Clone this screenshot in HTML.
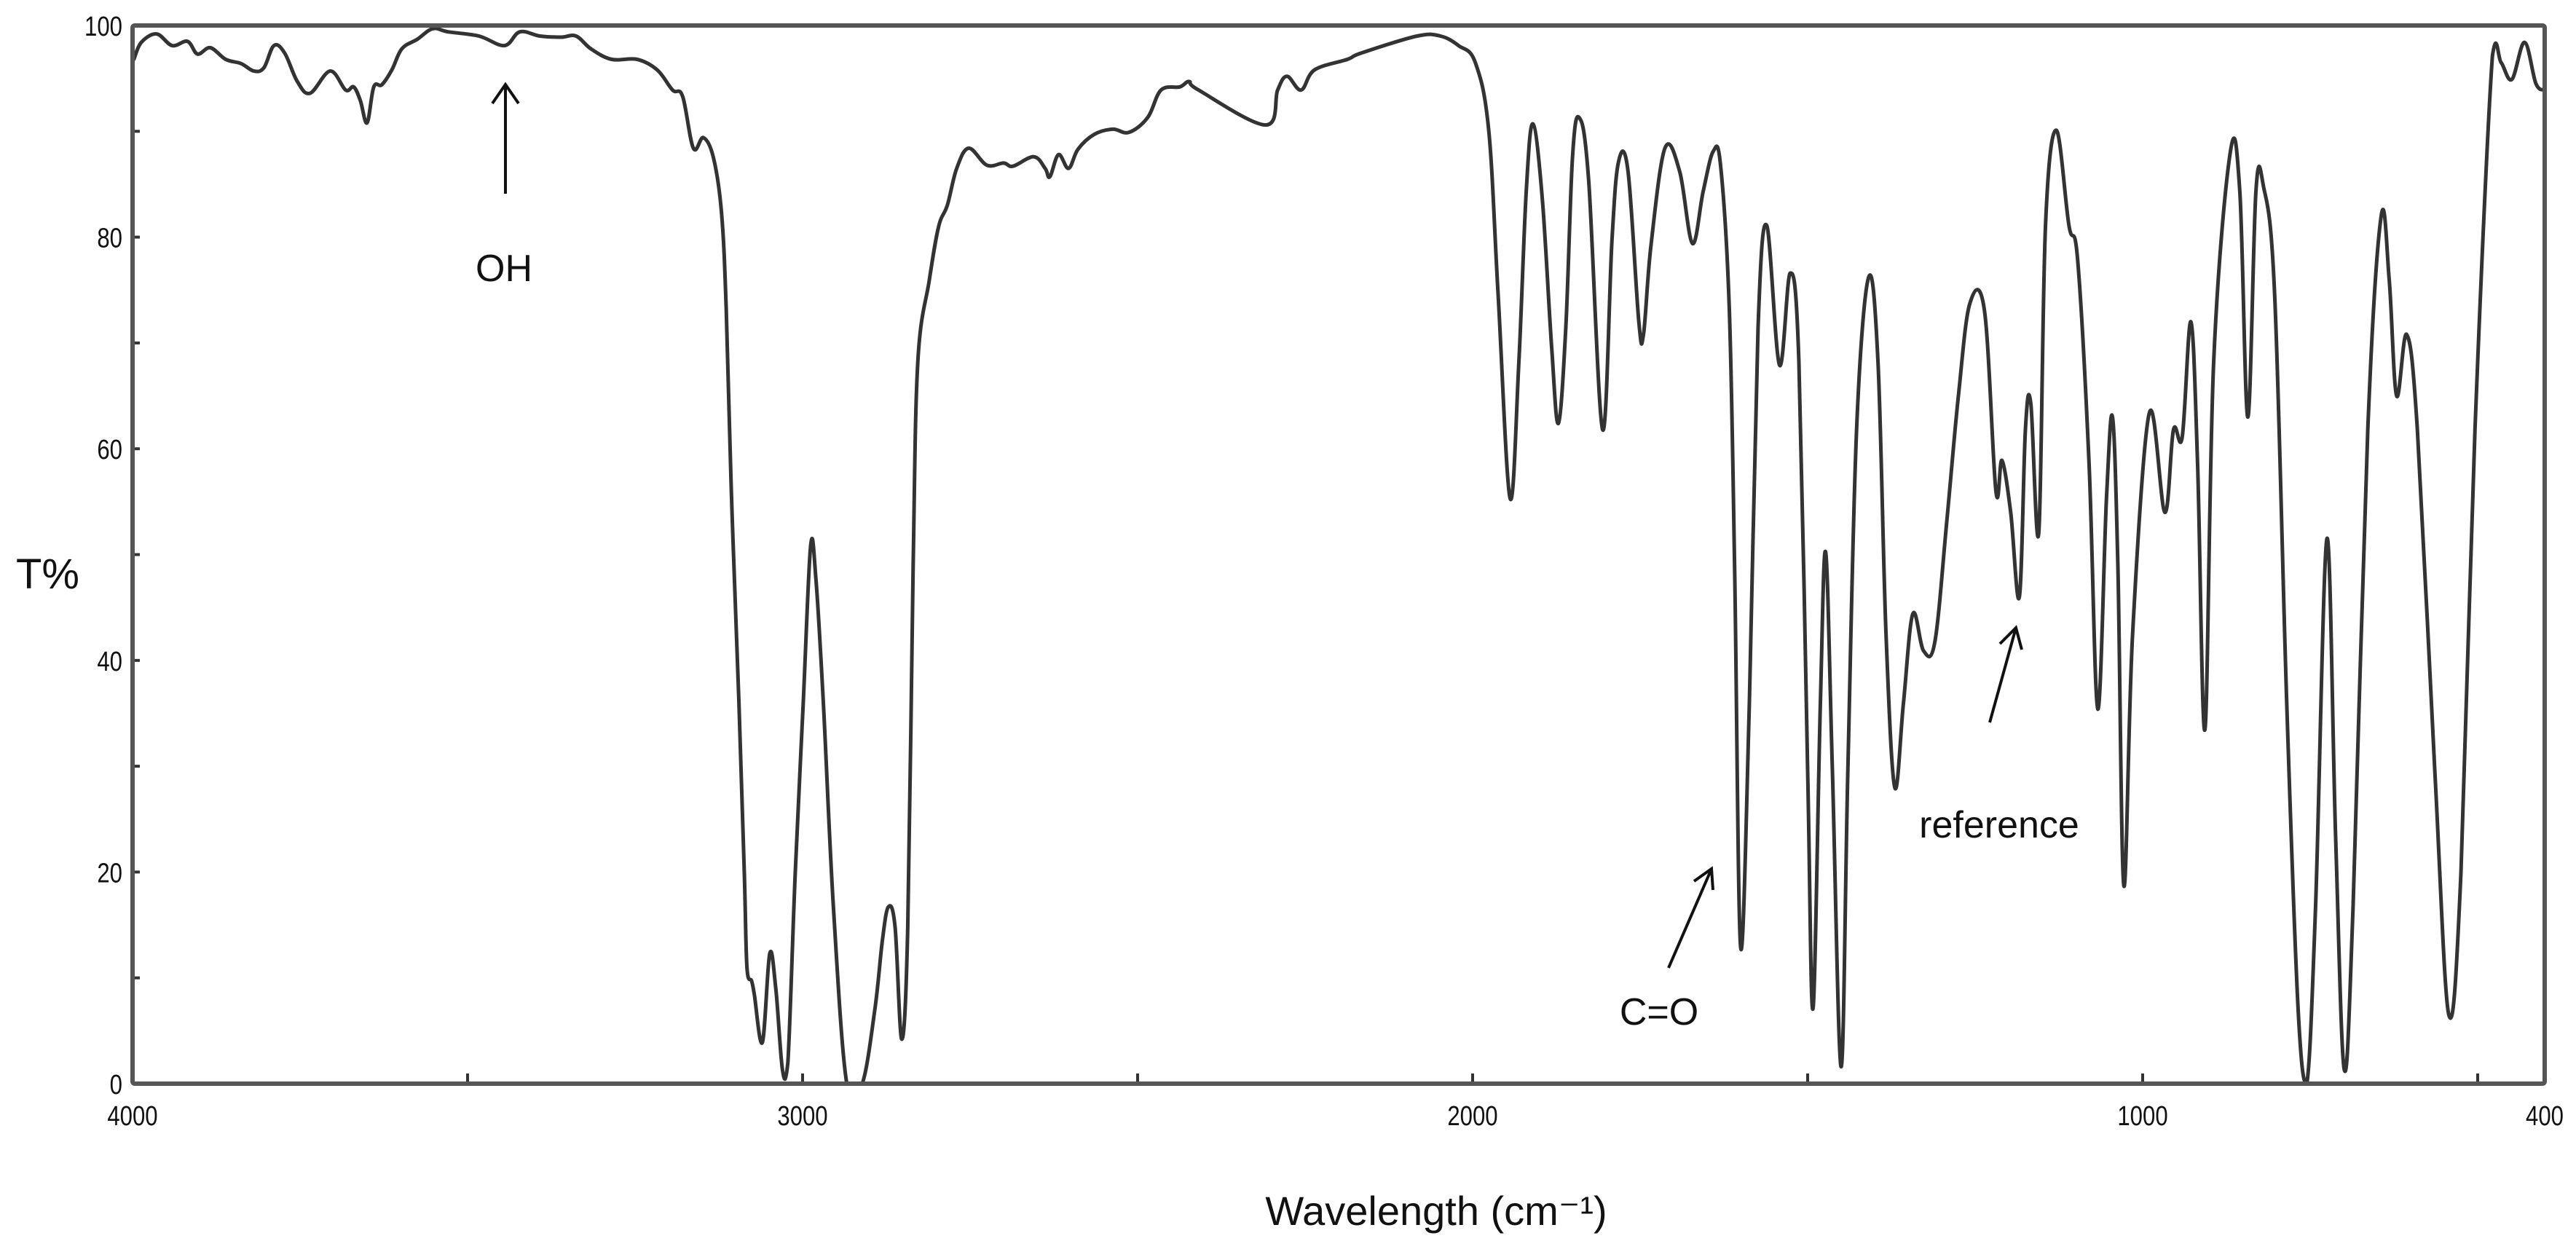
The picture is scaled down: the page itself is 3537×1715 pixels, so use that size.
<!DOCTYPE html>
<html><head><meta charset="utf-8"><style>
html,body{margin:0;padding:0;background:#fff;}
svg{display:block;}
text{font-family:"Liberation Sans",sans-serif;}
</style></head><body>
<svg id="chart" width="3537" height="1715" viewBox="0 0 3537 1715" xmlns="http://www.w3.org/2000/svg">
<rect x="0" y="0" width="3537" height="1715" fill="#fff"/>
<g id="ticks"></g>
<g id="labels"></g>
<path id="spectrum" fill="none" stroke="#333" stroke-width="5" stroke-linejoin="round" stroke-linecap="round"/>
<rect x="182" y="35" width="3312" height="1453" fill="none" stroke="#555" stroke-width="6" rx="3"/>
<text x="22" y="808" font-size="58" fill="#111">T%</text>
<text x="1972" y="1682" font-size="56" fill="#111" text-anchor="middle">Wavelength (cm⁻¹)</text>
<g>
<line x1="694" y1="266" x2="694" y2="116" stroke="#111" stroke-width="4"/>
<polyline points="676,142 694,116 712,142" fill="none" stroke="#111" stroke-width="4"/>
<text x="692" y="386" font-size="52" fill="#111" text-anchor="middle">OH</text>
</g>
<g>
<line x1="2291" y1="1329" x2="2350" y2="1193" stroke="#111" stroke-width="4"/>
<polyline points="2326,1210 2350,1193 2352,1222" fill="none" stroke="#111" stroke-width="4"/>
<text x="2278" y="1407" font-size="52" fill="#111" text-anchor="middle">C=O</text>
</g>
<g>
<line x1="2732" y1="992" x2="2768" y2="862" stroke="#111" stroke-width="4"/>
<polyline points="2746,884 2768,862 2776,892" fill="none" stroke="#111" stroke-width="4"/>
<text x="2745" y="1150" font-size="52" fill="#111" text-anchor="middle">reference</text>
</g>
</svg>
<script>
const wavenumbers=[3998,3987,3964,3941,3918,3903,3884,3861,3838,3819,3804,3789,3773,3754,3735,3705,3682,3670,3660,3650,3640,3628,3613,3598,3575,3552,3529,3483,3445,3422,3392,3361,3338,3316,3285,3247,3217,3194,3179,3163,3148,3133,3121,3114,3106,3095,3087,3083,3076,3072,3060,3049,3040,3030,3022,3011,2999,2988,2980,2969,2954,2934,2911,2892,2881,2872,2862,2852,2843,2835,2828,2811,2797,2784,2770,2752,2725,2700,2686,2655,2638,2631,2618,2603,2589,2565,2537,2513,2485,2465,2437,2423,2409,2309,2291,2277,2256,2236,2187,2166,2083,2048,2021,1996,1976,1962,1944,1931,1920,1910,1896,1882,1872,1861,1851,1841,1827,1806,1792,1782,1768,1752,1745,1734,1713,1691,1672,1656,1641,1630,1617,1609,1600,1587,1574,1561,1542,1526,1513,1500,1492,1481,1473,1463,1450,1440,1427,1409,1395,1383,1370,1357,1343,1327,1310,1292,1275,1258,1236,1219,1210,1197,1184,1175,1167,1155,1145,1129,1110,1097,1080,1067,1054,1045,1037,1028,1015,990,967,954,941,928,918,907,894,869,855,843,831,820,803,785,768,755,742,725,712,699,686,664,644,632,621,606,590,564,543,525,504,478,465,449,430,413,400];
const transmittance=[96.8,98.4,99.2,98.1,98.5,97.3,97.9,96.8,96.4,95.7,96.0,98.1,97.4,94.7,93.6,95.7,93.9,94.2,92.9,90.8,94.2,94.4,95.8,97.8,98.7,99.7,99.4,99.0,98.1,99.4,99.0,98.9,99.0,97.8,96.8,96.8,95.8,93.9,93.3,88.4,89.4,87.5,82.3,73.3,55.3,36.0,19.9,11.0,9.7,8.4,3.9,12.3,9.0,1.3,2.0,19.9,36.0,50.8,47.6,36.0,16.7,0,0,7.1,13.5,16.7,14.8,4.2,14.8,48.9,68.2,75.9,81.0,83.0,86.5,88.4,86.8,87.0,86.7,87.6,86.5,85.7,87.8,86.5,88.3,89.7,90.2,89.9,91.3,93.9,94.2,94.7,93.9,90.6,93.9,95.2,93.9,95.8,96.8,97.4,99.0,99.0,98.1,96.5,90.1,74.6,55.3,68.2,84.3,90.7,83.6,69.5,62.4,71.4,87.5,91.3,85.5,61.8,79.8,87.2,86.2,72.0,70.8,79.1,88.4,86.2,79.4,84.3,88.1,86.8,73.3,48.9,12.9,36.0,71.4,81.1,67.9,76.6,68.2,29.6,7.1,36.0,50.2,29.6,1.6,29.6,61.8,76.2,68.2,42.5,28.0,36.0,44.4,40.9,41.8,53.4,65.0,73.7,73.0,56.0,58.9,54.0,46.0,61.8,64.3,52.1,81.1,90.1,81.1,77.8,58.6,35.4,55.3,63.0,48.9,18.7,42.5,63.4,54.0,61.8,61.1,72.0,58.6,33.5,68.2,88.1,84.3,63.0,84.3,84.9,74.6,36.0,7.1,0,16.7,51.5,23.2,1.3,16.7,61.8,82.0,75.9,65.0,70.8,61.8,29.6,6.5,19.9,61.8,97.1,96.5,94.9,98.4,94.5,93.9];
const xTickLabels=["4000","3000","2000","1000","400"];
const xTickValues=[4000,3000,2000,1000,400];
const yTickLabels=["0","20","40","60","80","100"];
const yTickValues=[0,20,40,60,80,100];

const L=182,R=3494,T=35,B=1488;
function xs(w){return L+(4000-w)/(4000-400)*(R-L);}
function ys(v){return B-v/100*(B-T);}
const NS="http://www.w3.org/2000/svg";
const pts=wavenumbers.map((w,i)=>[xs(w),ys(transmittance[i])]);
let d="M"+pts[0][0].toFixed(1)+","+pts[0][1].toFixed(1);
const k=0.35;
for(let i=0;i<pts.length-1;i++){
  const p0=pts[Math.max(0,i-1)],p1=pts[i],p2=pts[i+1],p3=pts[Math.min(pts.length-1,i+2)];
  let c1x=p1[0]+(p2[0]-p0[0])*k/2,c1y=p1[1]+(p2[1]-p0[1])*k/2;
  let c2x=p2[0]-(p3[0]-p1[0])*k/2,c2y=p2[1]-(p3[1]-p1[1])*k/2;
  c1y=Math.min(B,Math.max(T,c1y));c2y=Math.min(B,Math.max(T,c2y));
  d+="C"+c1x.toFixed(1)+","+c1y.toFixed(1)+" "+c2x.toFixed(1)+","+c2y.toFixed(1)+" "+p2[0].toFixed(1)+","+p2[1].toFixed(1);
}
document.getElementById('spectrum').setAttribute('d',d);

const tg=document.getElementById('ticks');
for(let w=4000;w>=400;w-=500){
  const l=document.createElementNS(NS,'line');
  
  
  l.setAttribute('x1',xs(w));l.setAttribute('x2',xs(w));l.setAttribute('y1',B);l.setAttribute('y2',B-14);
  l.setAttribute('stroke','#333');l.setAttribute('stroke-width','4');tg.appendChild(l);
}
for(let v=0;v<=100;v+=10){
  const l=document.createElementNS(NS,'line');
  
  
  l.setAttribute('x1',L);l.setAttribute('x2',L+10);l.setAttribute('y1',ys(v));l.setAttribute('y2',ys(v));
  l.setAttribute('stroke','#333');l.setAttribute('stroke-width','4');tg.appendChild(l);
}
const lg=document.getElementById('labels');
xTickValues.forEach((w,i)=>{
  const t=document.createElementNS(NS,'text');
  
  
  const x=xs(w);
  t.setAttribute('x',x);t.setAttribute('y',1545);t.setAttribute('font-size','38');
  t.setAttribute('text-anchor','middle');t.setAttribute('fill','#111');
  t.setAttribute('transform','translate('+x+',0) scale(0.82,1) translate('+(-x)+',0)');
  t.textContent=xTickLabels[i];lg.appendChild(t);
});
yTickValues.forEach((v,i)=>{
  const t=document.createElementNS(NS,'text');
  
  
  t.setAttribute('x',168);t.setAttribute('y',ys(v)+14);t.setAttribute('font-size','38');
  t.setAttribute('text-anchor','end');t.setAttribute('fill','#111');
  t.setAttribute('transform','translate(168,0) scale(0.82,1) translate(-168,0)');
  t.textContent=yTickLabels[i];lg.appendChild(t);
});
</script>
</body></html>
